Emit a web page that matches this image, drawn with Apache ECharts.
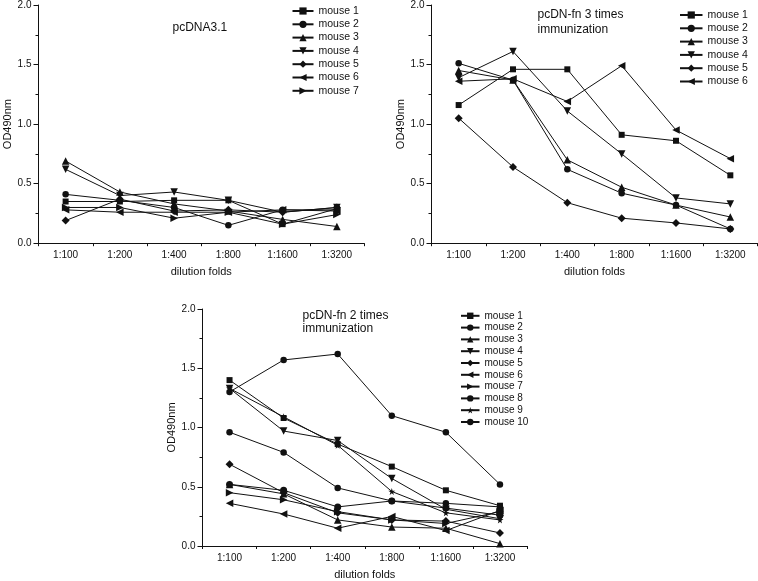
<!DOCTYPE html>
<html>
<head>
<meta charset="utf-8">
<script src="https://cdn.jsdelivr.net/npm/echarts@6/dist/echarts.min.js"></script>
<style>html,body{margin:0;padding:0;background:#fff}#c{width:758px;height:581px}</style>
</head>
<body>
<div id="c"></div>
<script>
// ---- data ----
const categories = ['1:100', '1:200', '1:400', '1:800', '1:1600', '1:3200'];
const yAxisTitle = 'OD490nm';
const xAxisTitle = 'dilution folds';
const title1 = 'pcDNA3.1';
const title2 = 'pcDN-fn 3 times\nimmunization';
const title3 = 'pcDN-fn 2 times\nimmunization';

// panel 1: pcDNA3.1
const p1Mouse1 = [0.35, 0.35, 0.36, 0.36, 0.16, 0.29];
const p1Mouse2 = [0.41, 0.36, 0.30, 0.15, 0.28, 0.28];
const p1Mouse3 = [0.69, 0.43, 0.33, 0.27, 0.20, 0.14];
const p1Mouse4 = [0.62, 0.40, 0.43, 0.36, 0.26, 0.30];
const p1Mouse5 = [0.19, 0.37, 0.27, 0.28, 0.26, 0.30];
const p1Mouse6 = [0.28, 0.26, 0.26, 0.26, 0.28, 0.27];
const p1Mouse7 = [0.30, 0.30, 0.21, 0.26, 0.16, 0.24];

// panel 2: pcDN-fn 3 times immunization
const p2Mouse1 = [1.16, 1.46, 1.46, 0.91, 0.86, 0.57];
const p2Mouse2 = [1.51, 1.37, 0.62, 0.42, 0.32, 0.12];
const p2Mouse3 = [1.45, 1.37, 0.70, 0.47, 0.32, 0.22];
const p2Mouse4 = [1.39, 1.61, 1.11, 0.75, 0.38, 0.33];
const p2Mouse5 = [1.05, 0.64, 0.34, 0.21, 0.17, 0.12];
const p2Mouse6 = [1.36, 1.38, 1.19, 1.49, 0.95, 0.71];

// panel 3: pcDN-fn 2 times immunization
const p3Mouse1 = [1.40, 1.08, 0.86, 0.67, 0.47, 0.34];
const p3Mouse2 = [1.30, 1.57, 1.62, 1.10, 0.96, 0.52];
const p3Mouse3 = [0.52, 0.44, 0.22, 0.16, 0.15, 0.02];
const p3Mouse4 = [1.33, 0.97, 0.89, 0.57, 0.31, 0.23];
const p3Mouse5 = [0.69, 0.45, 0.28, 0.22, 0.21, 0.11];
const p3Mouse6 = [0.36, 0.27, 0.15, 0.25, 0.13, 0.30];
const p3Mouse7 = [0.45, 0.39, 0.29, 0.22, 0.19, 0.29];
const p3Mouse8 = [0.96, 0.79, 0.49, 0.38, 0.36, 0.33];
const p3Mouse9 = [1.33, 1.09, 0.85, 0.46, 0.28, 0.22];
const p3Mouse10 = [0.52, 0.47, 0.33, 0.38, 0.32, 0.26];

const panel1 = [p1Mouse1, p1Mouse2, p1Mouse3, p1Mouse4, p1Mouse5, p1Mouse6, p1Mouse7];
const panel2 = [p2Mouse1, p2Mouse2, p2Mouse3, p2Mouse4, p2Mouse5, p2Mouse6];
const panel3 = [p3Mouse1, p3Mouse2, p3Mouse3, p3Mouse4, p3Mouse5, p3Mouse6, p3Mouse7, p3Mouse8, p3Mouse9, p3Mouse10];

// ---- styles ----
const FONT = '"Liberation Sans", Arial, sans-serif';
const INK = '#111';
const STAR = 'path://M50,0 L61,35 L98,35 L68,57 L79,91 L50,70 L21,91 L32,57 L2,35 L39,35 Z';
const markers = [
  {symbol: 'rect', size: 6, rot: 0},
  {symbol: 'circle', size: 6.5, rot: 0},
  {symbol: 'triangle', size: 7.5, rot: 0},
  {symbol: 'triangle', size: 7.5, rot: 180},
  {symbol: 'diamond', size: 8, rot: 0},
  {symbol: 'triangle', size: 7.5, rot: 90},
  {symbol: 'triangle', size: 7.5, rot: -90},
  {symbol: 'circle', size: 6.5, rot: 0},
  {symbol: STAR, size: 7, rot: 0},
  {symbol: 'circle', size: 7, rot: 0}
];

const grids = [
  {left: 38.5, top: 4.7, width: 325.5, height: 238.5},
  {left: 431.5, top: 4.7, width: 326, height: 238.5},
  {left: 202.5, top: 309, width: 324.5, height: 238.3}
];

const xAxes = [], yAxes = [], series = [];
grids.forEach((g, i) => {
  xAxes.push({
    type: 'category', gridIndex: i, data: categories, boundaryGap: true,
    name: xAxisTitle, nameLocation: 'middle', nameGap: 23,
    nameTextStyle: {fontFamily: FONT, fontSize: 11, color: INK},
    axisLine: {lineStyle: {color: INK, width: 1}},
    axisTick: {alignWithLabel: true, length: 5, lineStyle: {color: INK}},
    axisLabel: {fontFamily: FONT, fontSize: 10, color: INK, margin: 7, interval: 0},
    splitLine: {show: false}
  });
  yAxes.push({
    type: 'value', gridIndex: i, min: 0, max: 2, interval: 0.5,
    name: yAxisTitle, nameLocation: 'middle', nameGap: 23,
    nameTextStyle: {fontFamily: FONT, fontSize: 11, color: INK},
    axisLine: {show: true, lineStyle: {color: INK, width: 1}},
    axisTick: {show: true, length: 5, lineStyle: {color: INK}},
    minorTick: {show: true, splitNumber: 2, length: 3, lineStyle: {color: INK}},
    axisLabel: {fontFamily: FONT, fontSize: 10, color: INK, margin: 7, formatter: v => v.toFixed(1)},
    splitLine: {show: false}
  });
});
// minor ticks between categories
grids.forEach((g, i) => {
  xAxes.push({
    type: 'category', gridIndex: i, data: categories, boundaryGap: true, position: 'bottom',
    axisLine: {show: false}, axisLabel: {show: false},
    axisTick: {show: true, length: 3, lineStyle: {color: INK}}, splitLine: {show: false}
  });
});

function addPanel(data, gi) {
  const names = [];
  data.forEach((vals, k) => {
    const m = markers[k];
    const name = 'mouse ' + (k + 1);
    names.push(name);
    series.push({
      type: 'line', name: name, xAxisIndex: gi, yAxisIndex: gi, data: vals,
      symbol: m.symbol, symbolSize: m.size, symbolRotate: m.rot, showAllSymbol: true,
      lineStyle: {color: INK, width: 1}, itemStyle: {color: INK, borderWidth: 0},
      emphasis: {disabled: true}, animation: false, z: 3
    });
  });
  return names;
}
const n1 = addPanel(panel1, 0);
const n2 = addPanel(panel2, 1);
const n3 = addPanel(panel3, 2);

function legend(names, left, top, w, gap, fs, ih) {
  return {
    data: names, orient: 'vertical', left: left, top: top, padding: 0,
    itemWidth: w, itemHeight: ih, itemGap: gap, selectedMode: false,
    textStyle: {fontFamily: FONT, fontSize: fs, color: INK}
  };
}

const chart = echarts.init(document.getElementById('c'), null, {renderer: 'canvas'});
chart.setOption({
  animation: false,
  backgroundColor: '#fff',
  grid: grids,
  xAxis: xAxes,
  yAxis: yAxes,
  series: series,
  legend: [
    legend(n1, 291.5, 5.5, 21, 2.3, 10.5, 9),
    legend(n2, 679, 9.5, 22.5, 2.3, 10.5, 9),
    legend(n3, 460, 310.8, 18.5, 1.8, 10, 8)
  ],
  title: [
    {text: title1, left: 172.5, top: 22, padding: 0, textStyle: {fontFamily: FONT, fontSize: 12, fontWeight: 'normal', color: INK}},
    {text: title2, left: 537.5, top: 7.5, padding: 0, textStyle: {fontFamily: FONT, fontSize: 12, fontWeight: 'normal', color: INK, lineHeight: 15}},
    {text: title3, left: 302.5, top: 308.5, padding: 0, textStyle: {fontFamily: FONT, fontSize: 12, fontWeight: 'normal', color: INK, lineHeight: 13.5}}
  ]
});
</script>
</body>
</html>
